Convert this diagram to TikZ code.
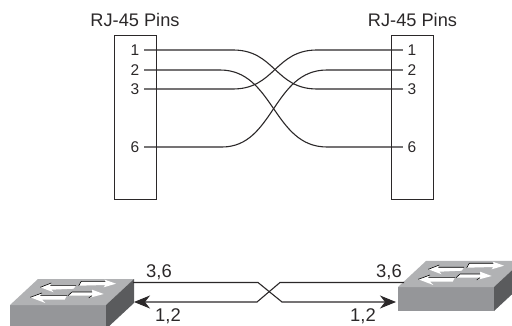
\documentclass[tikz,border=0pt]{standalone}
\usepackage{fontspec}
\setmainfont{Liberation Sans}
\usetikzlibrary{positioning, arrows.meta}

\definecolor{swtop}{HTML}{B1B2B4}
\definecolor{swfront}{HTML}{959699}
\definecolor{swside}{HTML}{5A5B5D}
\definecolor{wirecol}{HTML}{2B2829}

\tikzset{
  pinbox/.style={draw=wirecol, line width=0.9pt, minimum width=42pt, minimum height=164pt, inner sep=0pt},
  pinnum/.style={font=\fontsize{15.5}{18}\selectfont, inner sep=4.6pt, text=wirecol},
  title/.style={font=\fontsize{18.2}{21}\selectfont, inner sep=0pt, text=wirecol},
  wirelabel/.style={font=\fontsize{18.4}{21}\selectfont, inner sep=0pt, text=wirecol},
  wire/.style={draw=wirecol, line width=1.1pt},
  tip/.style={line width=1.1pt, draw=wirecol, fill=wirecol},
  catalyst/.pic={
    \fill[swfront] (0,0) rectangle (96,24);
    \fill[swtop] (0,0) -- (28,-26) -- (124,-26) -- (96,0) -- cycle;
    \fill[swside] (96,0) -- (124,-26) -- (124,-2) -- (96,24) -- cycle;
    %flow arrows
    \fill[white] (30.3,-17.7) -- (41.3,-22) -- (40.3,-19.7) -- (66,-19.7) -- (63.7,-16.3) -- (41.3,-15.3) -- (43.7,-12.7) -- cycle;
    \fill[white] (71.3,-23.7) -- (95.3,-23.7) -- (94.7,-25.3) -- (106,-21.3) -- (93.7,-17.7) -- (95.3,-20) -- (68.7,-19.3) -- cycle;
    \fill[white] (20.3,-7.7) -- (32,-12) -- (30.3,-9.7) -- (57,-9.7) -- (54.7,-5.3) -- (32,-5.3) -- (35.3,-2) -- cycle;
    \fill[white] (62,-13) -- (82,-13) -- (82,-15.3) -- (93.7,-11) -- (78.7,-7) -- (82,-9.3) -- (58,-9.3) -- cycle;
    %arrow shadows
    \draw[black, line width=0.6pt] (30.3,-17.7) -- (41.3,-22) (40.3,-19.7) -- (66,-19.7) (71.3,-23.7) -- (68.7,-19.3) (71.3,-23.7) -- (95.3,-23.7);
    \draw[black, line width=0.6pt] (20.3,-7.7) -- (32,-12) (30.3,-9.7) -- (57,-9.7) (62,-13) -- (58,-9.3) (62,-13) -- (82,-13) (78.7,-7) -- (82,-9.3);
  }
}

\begin{document}
\begin{tikzpicture}[x=1pt, y=-1pt]
\clip (0,0) rectangle (512,326);

%pin boxes
\node[pinbox] (lbox) at (135,117) {};
\node[pinbox] (rbox) at (412.5,117) {};
\node[title, above=8pt of lbox] (ltitle) {RJ-45 Pins};
\node[title, above=8pt of rbox] (rtitle) {RJ-45 Pins};

%left pins
\node[pinnum] (lpin1) at (135,50) {1};
\node[pinnum] (lpin2) at (135,70) {2};
\node[pinnum] (lpin3) at (135,89) {3};
\node[pinnum] (lpin6) at (135,147) {6};

%right pins
\node[pinnum] (rpin1) at (412,50) {1};
\node[pinnum] (rpin2) at (412,70) {2};
\node[pinnum] (rpin3) at (412,89) {3};
\node[pinnum] (rpin6) at (412,147) {6};

%crossed pairs
\draw[wire] (lpin1.east) -- (233,50) .. controls (275,50) and (275,89) .. (317,89) -- (rpin3.west);
\draw[wire] (lpin3.east) -- (233,89) .. controls (275,89) and (275,50) .. (317,50) -- (rpin1.west);
\draw[wire] (lpin2.east) -- (220,70) .. controls (274,70) and (273,147) .. (327,147) -- (rpin6.west);
\draw[wire] (lpin6.east) -- (222,147) .. controls (274,147) and (273,70) .. (327,70) -- (rpin2.west);

%switches
\pic at (10,305) {catalyst};
\pic at (398,287) {catalyst};

%link ends
\coordinate (ltx) at (133,282.5);
\coordinate (lrx) at (134,302);
\coordinate (rrx) at (396,302);
\coordinate (rtx) at (404,282.5);

\draw[wire, -{Stealth[length=16pt, width=13pt, inset=5pt]}] (ltx) -- (258,282.5) -- (282,302) -- (rrx);
\draw[wire, {Stealth[length=16pt, width=13pt, inset=5pt]}-] (lrx) -- (257,302) -- (280,282.5) -- (rtx);

%labels
\node[wirelabel] (ltop) at (159,272) {3,6};
\node[wirelabel] (lbot) at (168,316) {1,2};
\node[wirelabel] (rtop) at (389,272) {3,6};
\node[wirelabel] (rbot) at (363,316) {1,2};
\end{tikzpicture}
\end{document}
